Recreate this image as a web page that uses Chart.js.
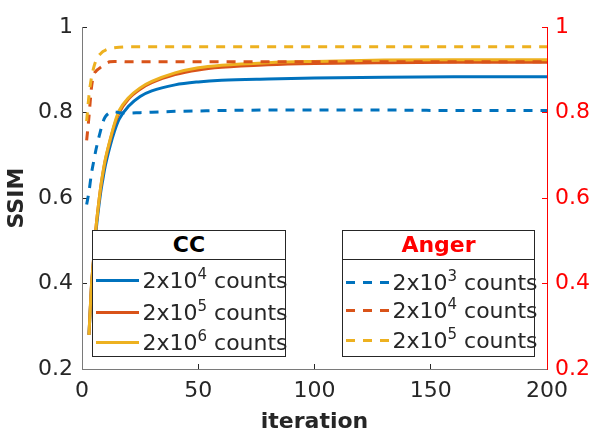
<!DOCTYPE html>
<html><head><meta charset="utf-8">
<script src="https://cdn.jsdelivr.net/npm/chart.js@4.4.1/dist/chart.umd.min.js"></script>
<style>
html,body{margin:0;padding:0;background:#fff;}
#wrap{position:relative;width:592px;height:435px;font-family:"DejaVu Sans",sans-serif;overflow:hidden;}
#c{position:absolute;left:0;top:0;}
.leg{position:absolute;box-sizing:border-box;border:1px solid #262626;background:#fff;}
.leg .ttl{position:absolute;left:0;right:0;top:0;height:28px;border-bottom:1px solid #262626;text-align:center;font-weight:bold;font-size:22px;line-height:28px;}
.row{position:absolute;left:0;right:0;height:31px;}
.sample{position:absolute;top:14px;height:3px;}
.txt{position:absolute;font-size:22px;line-height:31px;top:0;color:#262626;white-space:nowrap;}
.txt .e{font-size:15px;position:relative;top:-9px;}
</style>
</head><body>
<div id="wrap"><canvas id="c" width="592" height="435"></canvas></div>
<script>
// ---- data ----
const ccIter   = [3,4,5,6,7,8,9,10,12,14,16,20,25,30,40,50,60,80,100,130,160,200];
const cc2e4    = [0.28,0.385,0.455,0.52,0.57,0.612,0.645,0.675,0.72,0.757,0.785,0.815,0.838,0.851,0.865,0.872,0.876,0.879,0.881,0.883,0.884,0.884];
const cc2e5    = [0.28,0.39,0.46,0.53,0.58,0.623,0.658,0.688,0.733,0.772,0.80,0.832,0.855,0.87,0.889,0.90,0.906,0.912,0.915,0.917,0.918,0.918];
const cc2e6    = [0.28,0.39,0.46,0.53,0.58,0.625,0.66,0.69,0.735,0.775,0.805,0.835,0.858,0.873,0.893,0.905,0.911,0.917,0.920,0.923,0.924,0.924];
const angerIter = [2,3,4,5,6,7,8,9,10,12,14,16,20,25,30,40,50,60,80,100,130,160,200];
const anger2e3 = [0.585,0.615,0.655,0.685,0.713,0.737,0.758,0.778,0.79,0.80,0.802,0.80,0.799,0.80,0.801,0.803,0.804,0.805,0.806,0.806,0.806,0.805,0.805];
const anger2e4 = [0.735,0.79,0.855,0.888,0.897,0.902,0.906,0.91,0.914,0.919,0.92,0.92,0.919,0.919,0.919,0.919,0.919,0.919,0.919,0.919,0.919,0.919,0.919];
const anger2e5 = [0.78,0.84,0.88,0.905,0.922,0.932,0.938,0.943,0.946,0.95,0.952,0.953,0.954,0.954,0.954,0.954,0.954,0.954,0.954,0.954,0.954,0.954,0.954];
const xTicks = [0,50,100,150,200];
const yTicks = [0.2,0.4,0.6,0.8,1];
const ccExp = [4,5,6];
const angerExp = [3,4,5];
const ccTitle = 'CC';
const angerTitle = 'Anger';
const xTitle = 'iteration';
const yTitle = 'SSIM';

// ---- styles ----
const C = ['#0072BD','#D95319','#EDB120'];
const FONT = 'DejaVu Sans';
const DASH = [9,8];

function pts(xs, ys){ return xs.map((x,i)=>({x:x, y:ys[i]})); }
const ccSeries = [cc2e4, cc2e5, cc2e6];
const angerSeries = [anger2e3, anger2e4, anger2e5];
const datasets = [];
ccSeries.forEach((s,i)=>datasets.push({label:'CC 2x10^'+ccExp[i], data:pts(ccIter,s), borderColor:C[i], borderWidth:3, pointRadius:0, cubicInterpolationMode:'monotone', fill:false, order:6-i}));
angerSeries.forEach((s,i)=>datasets.push({label:'Anger 2x10^'+angerExp[i], data:pts(angerIter,s), borderColor:C[i], borderWidth:3, borderDash:DASH, pointRadius:0, cubicInterpolationMode:'monotone', fill:false, order:3-i}));

const tickFmt = v => String(+(+v).toFixed(1));

new Chart(document.getElementById('c'), {
  type:'line',
  data:{datasets:datasets},
  options:{
    responsive:false, animation:false, devicePixelRatio:1,
    layout:{padding:{top:18,left:0,right:0,bottom:0}},
    plugins:{legend:{display:false}, tooltip:{enabled:false}},
    scales:{
      x:{type:'linear', min:0, max:200,
        afterBuildTicks:s=>{s.ticks = xTicks.map(v=>({value:v}));},
        afterFit:s=>{s.height=66;},
        grid:{drawOnChartArea:false, tickLength:-5, color:'#262626'},
        border:{color:'#7a7a7a', width:1},
        ticks:{font:{family:FONT,size:22}, color:'#262626', padding:14, maxRotation:0, callback:v=>String(v)},
        title:{display:true, text:xTitle, font:{family:FONT,size:22,weight:'bold'}, color:'#262626', padding:{top:0,bottom:0}}
      },
      y:{type:'linear', position:'left', min:0.2, max:1,
        afterBuildTicks:s=>{s.ticks = yTicks.map(v=>({value:v}));},
        afterFit:s=>{s.width=82;},
        grid:{drawOnChartArea:false, tickLength:-5, color:'#262626'},
        border:{color:'#7a7a7a', width:1},
        ticks:{font:{family:FONT,size:22}, color:'#262626', padding:14, callback:tickFmt},
        title:{display:true, text:yTitle, font:{family:FONT,size:22,weight:'bold'}, color:'#262626', padding:{top:4,bottom:0}}
      },
      y2:{type:'linear', position:'right', min:0.2, max:1,
        afterBuildTicks:s=>{s.ticks = yTicks.map(v=>({value:v}));},
        afterFit:s=>{s.width=45;},
        grid:{drawOnChartArea:false, tickLength:-5, color:'#ff0000'},
        border:{color:'#ff0000', width:1},
        ticks:{font:{family:FONT,size:22}, color:'#ff0000', padding:13, callback:tickFmt}
      }
    }
  }
});

// ---- legends (HTML overlay) ----
function buildLegend(box, title, titleColor, exps, dashed){
  const wrap = document.getElementById('wrap');
  const d = document.createElement('div');
  d.className='leg';
  d.style.left=box.left+'px'; d.style.top=box.top+'px';
  d.style.width=box.width+'px'; d.style.height=box.height+'px';
  const t = document.createElement('div');
  t.className='ttl'; t.textContent=title; t.style.color=titleColor;
  d.appendChild(t);
  exps.forEach((e,i)=>{
    const r = document.createElement('div');
    r.className='row'; r.style.top=box.rows[i]+'px';
    const s = document.createElement('div');
    s.className='sample';
    s.style.left=box.sLeft+'px'; s.style.width=box.sWidth+'px';
    s.style.background = dashed
      ? 'repeating-linear-gradient(90deg,'+C[i]+' 0 9px, transparent 9px 17px)'
      : C[i];
    r.appendChild(s);
    const tx = document.createElement('div');
    tx.className='txt'; tx.style.left=box.tLeft+'px';
    tx.innerHTML = '2x10<span class="e">'+e+'</span> counts';
    r.appendChild(tx);
    d.appendChild(r);
  });
  wrap.appendChild(d);
}
buildLegend({left:92,top:230,width:194,height:127,rows:[34,65.5,95.5],sLeft:3,sWidth:43,tLeft:49.5}, ccTitle, '#000', ccExp, false);
buildLegend({left:342,top:230,width:193,height:127,rows:[35.5,64,94],sLeft:3,sWidth:44,tLeft:49.5}, angerTitle, '#ff0000', angerExp, true);
</script>
</body></html>
